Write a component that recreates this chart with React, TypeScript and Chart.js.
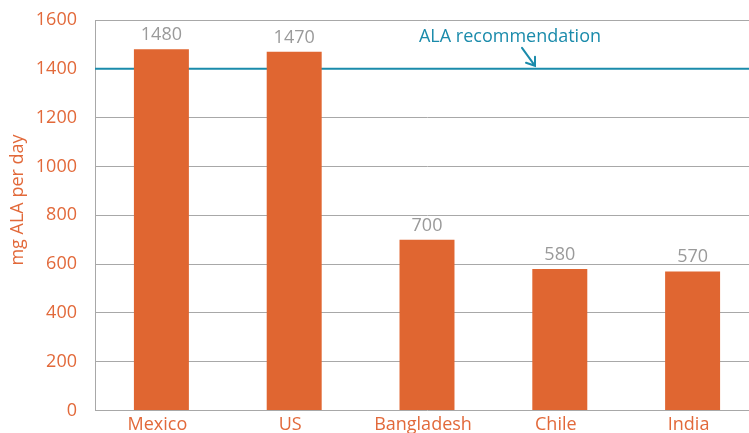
import React, { useEffect, useRef } from "react";
import { Chart, registerables } from "chart.js";

Chart.register(...registerables);

// ---- data ----
const countries = ["Mexico", "US", "Bangladesh", "Chile", "India"];
const intakeMg = [1480, 1470, 700, 580, 570];
const yTickValues = [0, 200, 400, 600, 800, 1000, 1200, 1400, 1600];
const recommendationMg = 1400;
const recommendationLabel = "ALA recommendation";
const yAxisTitle = "mg ALA per day";

// ---- styles ----
const ORANGE = "#E06631";
const ORANGE_TEXT = "#E2693A";
const TEAL = "#1A8BAB";
const GRAY_TEXT = "#9A9A9A";
const GRID = "#A8A8A8";
const FONT = "'Open Sans', 'Noto Sans', sans-serif";

const overlayPlugin = {
  id: "overlay",
  beforeDatasetsDraw(chart: any) {
    const { ctx, chartArea, scales } = chart;
    const py = scales.y.getPixelForValue(recommendationMg);
    ctx.save();
    ctx.strokeStyle = TEAL;
    ctx.lineWidth = 2;
    ctx.beginPath();
    ctx.moveTo(chartArea.left, py);
    ctx.lineTo(chartArea.right, py);
    ctx.stroke();
    ctx.restore();
  },
  afterDatasetsDraw(chart: any) {
    const { ctx, scales } = chart;
    ctx.save();
    // value labels
    ctx.font = `18px ${FONT}`;
    ctx.fillStyle = GRAY_TEXT;
    ctx.textAlign = "center";
    ctx.textBaseline = "alphabetic";
    const meta = chart.getDatasetMeta(0);
    meta.data.forEach((bar: any, i: number) => {
      ctx.fillText(String(intakeMg[i]), bar.x, bar.y - 9);
    });

    // recommendation annotation
    const py = scales.y.getPixelForValue(recommendationMg);
    ctx.fillStyle = TEAL;
    ctx.fillText(recommendationLabel, 510, py - 27);
    const tipX = 535;
    const tipY = py - 3;
    ctx.strokeStyle = TEAL;
    ctx.lineWidth = 2;
    ctx.lineCap = "round";
    ctx.beginPath();
    ctx.moveTo(522, py - 21);
    ctx.lineTo(tipX, tipY);
    ctx.moveTo(tipX - 9, tipY - 3);
    ctx.lineTo(tipX, tipY);
    ctx.lineTo(tipX, tipY - 9);
    ctx.stroke();

    // y axis title
    ctx.translate(17.5, 200);
    ctx.rotate(-Math.PI / 2);
    ctx.fillStyle = ORANGE_TEXT;
    ctx.textBaseline = "middle";
    ctx.fillText(yAxisTitle, 0, 0);
    ctx.restore();
  },
};

export default function App() {
  const ref = useRef<HTMLCanvasElement>(null);

  useEffect(() => {
    if (!ref.current) return;
    const chart = new Chart(ref.current, {
      type: "bar",
      data: {
        labels: countries,
        datasets: [
          {
            data: intakeMg,
            backgroundColor: ORANGE,
            borderWidth: 0,
            categoryPercentage: 1,
            barPercentage: 0.414,
          },
        ],
      },
      options: {
        animation: false,
        responsive: false,
        devicePixelRatio: 1,
        layout: { padding: { left: 0, right: 0, top: 20, bottom: 0 } },
        plugins: {
          legend: { display: false },
          tooltip: { enabled: false },
          title: { display: false },
        },
        scales: {
          x: {
            grid: { display: false, drawTicks: false },
            border: { display: false },
            ticks: {
              color: ORANGE_TEXT,
              font: { family: FONT, size: 18 },
              padding: 4,
              labelOffset: -4,
              maxRotation: 0,
              autoSkip: false,
            },
            afterFit(scale: any) {
              scale.height = 22.5;
              scale.paddingLeft = 0;
              scale.paddingRight = 0;
            },
          },
          y: {
            min: 0,
            max: 1600,
            afterBuildTicks(scale: any) {
              scale.ticks = yTickValues.map((v) => ({ value: v }));
            },
            grid: { color: GRID, lineWidth: 1, drawTicks: false },
            border: { display: true, color: GRID, width: 1 },
            ticks: {
              color: ORANGE_TEXT,
              font: { family: FONT, size: 18 },
              padding: 18,
              callback: (v: any) => String(v),
            },
            afterFit(scale: any) {
              scale.width = 95;
              scale.paddingTop = 0;
              scale.paddingBottom = 0;
            },
          },
        },
      },
      plugins: [overlayPlugin],
    });
    return () => chart.destroy();
  }, []);

  return (
    <div
      style={{
        position: "fixed",
        left: 0,
        top: 0,
        width: 749,
        height: 433,
        overflow: "hidden",
        background: "#ffffff",
      }}
    >
      <canvas ref={ref} width={759} height={433} style={{ display: "block" }} />
    </div>
  );
}
